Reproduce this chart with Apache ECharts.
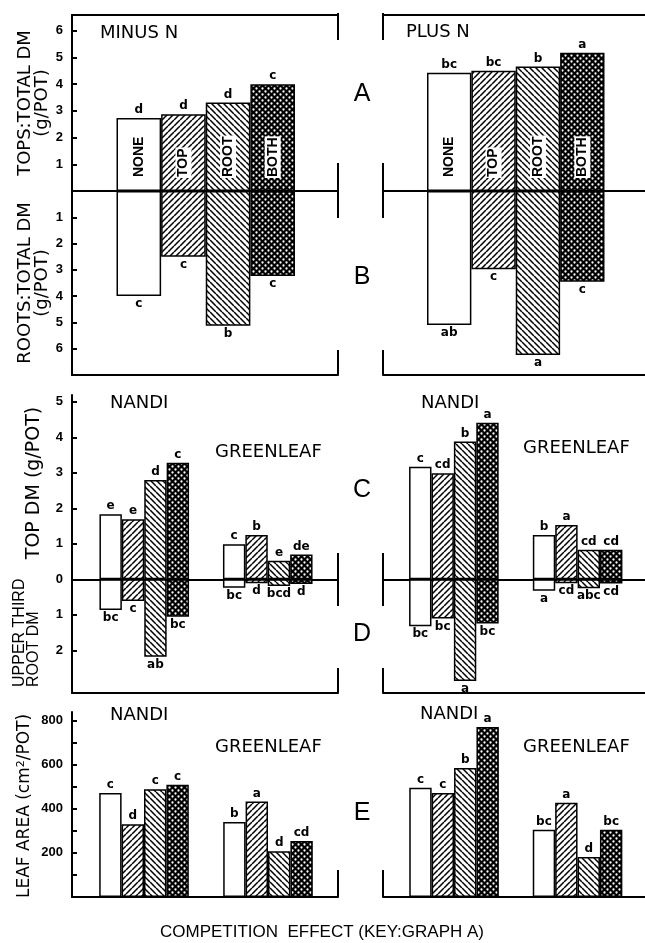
<!DOCTYPE html>
<html>
<head>
<meta charset="utf-8">
<script src="https://cdn.jsdelivr.net/npm/echarts@6/dist/echarts.min.js"></script>
<style>
  html, body { margin: 0; padding: 0; background: #fff; }
  #chart { width: 645px; height: 943px; }
</style>
</head>
<body>
<div id="chart"></div>
<script>
// competition treatments (key: graph A) and cultivars
const treatments = ['NONE', 'TOP', 'ROOT', 'BOTH'];
const cultivars = ['NANDI', 'GREENLEAF'];

// graphs A / B: tops and roots total DM (g/pot), order NONE, TOP, ROOT, BOTH
const topsMinusN = [2.73, 2.87, 3.31, 4.0];
const topsPlusN = [4.43, 4.5, 4.66, 5.18];
const rootsMinusN = [3.99, 2.5, 5.13, 3.23];
const rootsPlusN = [5.1, 2.98, 6.24, 3.45];
const topsMinusNSig = ['d', 'd', 'd', 'c'];
const topsPlusNSig = ['bc', 'bc', 'b', 'a'];
const rootsMinusNSig = ['c', 'c', 'b', 'c'];
const rootsPlusNSig = ['ab', 'c', 'a', 'c'];

// graphs C / D: top DM and upper third root DM (g/pot)
const topDmNandiMinusN = [1.83, 1.69, 2.80, 3.28];
const topDmGreenMinusN = [0.99, 1.25, 0.52, 0.70];
const rootDmNandiMinusN = [0.86, 0.61, 2.18, 1.05];
const rootDmGreenMinusN = [0.24, 0.11, 0.19, 0.13];
const topDmNandiPlusN = [3.17, 2.99, 3.88, 4.41];
const topDmGreenPlusN = [1.25, 1.53, 0.83, 0.83];
const rootDmNandiPlusN = [1.32, 1.10, 2.86, 1.24];
const rootDmGreenPlusN = [0.32, 0.11, 0.25, 0.12];
const topDmNandiMinusNSig = ['e', 'e', 'd', 'c'];
const topDmGreenMinusNSig = ['c', 'b', 'e', 'de'];
const rootDmNandiMinusNSig = ['bc', 'c', 'ab', 'bc'];
const rootDmGreenMinusNSig = ['bc', 'd', 'bcd', 'd'];
const topDmNandiPlusNSig = ['c', 'cd', 'b', 'a'];
const topDmGreenPlusNSig = ['b', 'a', 'cd', 'cd'];
const rootDmNandiPlusNSig = ['bc', 'bc', 'a', 'bc'];
const rootDmGreenPlusNSig = ['a', 'cd', 'abc', 'cd'];

// graph E: leaf area (cm2/pot)
const leafNandiMinusN = [471, 329, 488, 509];
const leafGreenMinusN = [340, 433, 207, 254];
const leafNandiPlusN = [495, 471, 584, 770];
const leafGreenPlusN = [305, 427, 181, 305];
const leafNandiMinusNSig = ['c', 'd', 'c', 'c'];
const leafGreenMinusNSig = ['b', 'a', 'd', 'cd'];
const leafNandiPlusNSig = ['c', 'c', 'b', 'a'];
const leafGreenPlusNSig = ['bc', 'a', 'd', 'bc'];

// tick values
const abTicks = [1, 2, 3, 4, 5, 6];
const cdTicks = [-2, -1, 0, 1, 2, 3, 4, 5];
const eTicks = [100, 200, 300, 400, 500, 600, 700, 800];
const eLabels = [200, 400, 600, 800];

const FONT = 'Liberation Sans';
const WIDE = 'DejaVu Sans';

function makePattern(kind) {
  const s = 6;
  const c = document.createElement('canvas');
  c.width = s; c.height = s;
  const g = c.getContext('2d');
  g.fillStyle = kind === 'dots' ? '#000' : '#fff';
  g.fillRect(0, 0, s, s);
  if (kind === 'dots') {
    g.fillStyle = '#fff';
    [[1.5, 1.5], [4.5, 4.5]].forEach(p => {
      g.beginPath(); g.arc(p[0], p[1], 1.15, 0, Math.PI * 2); g.fill();
    });
  } else {
    g.strokeStyle = '#000';
    g.lineWidth = 1.5;
    g.beginPath();
    for (let k = -1; k <= 1; k++) {
      if (kind === 'up') { g.moveTo(k * s, s); g.lineTo(k * s + s, 0); }
      else { g.moveTo(k * s, 0); g.lineTo(k * s + s, s); }
    }
    g.stroke();
  }
  return { image: c, repeat: 'repeat' };
}

const fills = ['#fff', makePattern('up'), makePattern('down'), makePattern('dots')];

const grid = [], xAxis = [], yAxis = [], series = [];
const lineStyle = { color: '#000', width: 2 };

function addGrid(box) {
  grid.push(Object.assign({ containLabel: false, outerBoundsMode: 'none' }, box));
  return grid.length - 1;
}

// frame: axes that only draw the panel lines
function frame(box, y, borders) {
  const gi = addGrid(box);
  yAxis.push(Object.assign({ gridIndex: gi, type: 'value', splitLine: { show: false } }, y));
  borders.forEach(b => {
    xAxis.push({
      gridIndex: gi, type: 'value', min: 0, max: 1,
      position: b === 'bottom' ? 'bottom' : 'top',
      axisLabel: { show: false }, axisTick: { show: false }, splitLine: { show: false },
      axisLine: { show: true, onZero: b === 'zero', lineStyle }
    });
  });
}

function leftAxis(min, max, ticks, labels, inverse) {
  return {
    min, max, inverse: !!inverse,
    axisLine: { show: true, onZero: false, lineStyle },
    axisTick: { show: true, inside: true, length: 5, customValues: ticks, lineStyle },
    axisLabel: {
      show: true, customValues: labels, formatter: v => String(Math.abs(v)),
      color: '#000', fontFamily: FONT, fontWeight: 'bold', fontSize: 13, margin: 9
    }
  };
}

function blankAxis(min, max, inverse) {
  return { min, max, inverse: !!inverse, axisLine: { show: false }, axisTick: { show: false }, axisLabel: { show: false } };
}

function dataGrid(box, cats, min, max, inverse) {
  const gi = addGrid(box);
  xAxis.push({ gridIndex: gi, type: 'category', data: cats, show: false });
  yAxis.push({ gridIndex: gi, type: 'value', min, max, inverse: !!inverse, show: false });
  return { x: xAxis.length - 1, y: yAxis.length - 1 };
}

const sigLabel = { show: true, color: '#000', fontFamily: WIDE, fontWeight: 'bold', fontSize: 12, distance: 2 };
const barBorder = { borderColor: '#000', borderWidth: 1.5 };

// ---- graphs A / B ----
const aTop = 15, aH = 176, bH = 184, aMax = 6.59, bMax = 7.0;

function abPanel(side, tops, roots, topsSig, rootsSig) {
  const left = side === 'L' ? 72 : 383;
  const width = side === 'L' ? 266 : 262;
  frame({ left, top: aTop, width, height: aH },
    side === 'L' ? leftAxis(0, aMax, abTicks, abTicks) : blankAxis(0, aMax), ['top', 'bottom']);
  frame({ left, top: aTop + aH, width, height: bH },
    side === 'L' ? leftAxis(0, bMax, abTicks, abTicks, true) : blankAxis(0, bMax, true), ['bottom']);

  const box = side === 'L' ? { left: 116.5, width: 178.5 } : { left: 427, width: 177.5 };
  const dA = dataGrid(Object.assign({ top: aTop, height: aH }, box), treatments, 0, aMax);
  const dB = dataGrid(Object.assign({ top: aTop + aH, height: bH }, box), treatments, 0, bMax, true);

  series.push({
    type: 'bar', xAxisIndex: dA.x, yAxisIndex: dA.y, barCategoryGap: '0%', barGap: '-100%',
    data: tops.map((v, i) => ({ value: v, itemStyle: { color: fills[i] } })),
    itemStyle: barBorder,
    label: Object.assign({ position: 'top', formatter: p => topsSig[p.dataIndex] }, sigLabel)
  });
  series.push({
    type: 'bar', xAxisIndex: dA.x, yAxisIndex: dA.y, barCategoryGap: '0%', barGap: '-100%', z: 3,
    data: tops, itemStyle: { color: 'transparent', borderWidth: 0 },
    label: {
      show: true, position: 'insideBottom', rotate: 90, align: 'left', verticalAlign: 'middle',
      distance: 13, formatter: p => treatments[p.dataIndex], color: '#000',
      fontFamily: FONT, fontWeight: 'bold', fontSize: 14, backgroundColor: '#fff', padding: [2, 1, 0, 1]
    }
  });
  series.push({
    type: 'bar', xAxisIndex: dB.x, yAxisIndex: dB.y, barCategoryGap: '0%',
    data: roots.map((v, i) => ({ value: v, itemStyle: { color: fills[i] } })),
    itemStyle: barBorder,
    label: Object.assign({ position: 'bottom', formatter: p => rootsSig[p.dataIndex] }, sigLabel)
  });
}

abPanel('L', topsMinusN, rootsMinusN, topsMinusNSig, rootsMinusNSig);
abPanel('R', topsPlusN, rootsPlusN, topsPlusNSig, rootsPlusNSig);

// ---- graphs C / D ----
const cdTop = 395, cdH = 298, cdMin = -3.2, cdMax = 5.19;

function cdPanel(side, cN, cG, dN, dG, cNs, cGs, dNs, dGs) {
  const left = side === 'L' ? 72 : 383;
  const width = side === 'L' ? 266 : 262;
  frame({ left, top: cdTop, width, height: cdH },
    side === 'L' ? leftAxis(cdMin, cdMax, cdTicks, cdTicks) : blankAxis(cdMin, cdMax), ['zero', 'bottom']);
  const box = side === 'L' ? { left: 82.5, width: 247 } : { left: 392, width: 247.5 };
  const d = dataGrid(Object.assign({ top: cdTop, height: cdH }, box), cultivars, cdMin, cdMax);
  treatments.forEach((t, i) => {
    const cSig = [cNs[i], cGs[i]], dSig = [dNs[i], dGs[i]];
    const stack = side + t;
    series.push({
      type: 'bar', xAxisIndex: d.x, yAxisIndex: d.y, stack, barWidth: 22.4, barGap: '0%',
      data: [cN[i], cG[i]], itemStyle: Object.assign({ color: fills[i] }, barBorder),
      label: Object.assign({ position: 'top', formatter: p => cSig[p.dataIndex] }, sigLabel)
    });
    series.push({
      type: 'bar', xAxisIndex: d.x, yAxisIndex: d.y, stack, barWidth: 22.4, barGap: '0%',
      data: [-dN[i], -dG[i]], itemStyle: Object.assign({ color: fills[i] }, barBorder),
      label: Object.assign({ position: 'bottom', formatter: p => dSig[p.dataIndex] }, sigLabel)
    });
  });
}

cdPanel('L', topDmNandiMinusN, topDmGreenMinusN, rootDmNandiMinusN, rootDmGreenMinusN,
  topDmNandiMinusNSig, topDmGreenMinusNSig, rootDmNandiMinusNSig, rootDmGreenMinusNSig);
cdPanel('R', topDmNandiPlusN, topDmGreenPlusN, rootDmNandiPlusN, rootDmGreenPlusN,
  topDmNandiPlusNSig, topDmGreenPlusNSig, rootDmNandiPlusNSig, rootDmGreenPlusNSig);

// ---- graph E ----
const eTop = 712, eH = 185, eMax = 838;

function ePanel(side, n, g, ns, gs) {
  const left = side === 'L' ? 72 : 383;
  const width = side === 'L' ? 266 : 262;
  frame({ left, top: eTop, width, height: eH },
    side === 'L' ? leftAxis(0, eMax, eTicks, eLabels) : blankAxis(0, eMax), ['bottom']);
  const box = side === 'L' ? { left: 82, width: 248 } : { left: 392.3, width: 247 };
  const d = dataGrid(Object.assign({ top: eTop, height: eH }, box), cultivars, 0, eMax);
  treatments.forEach((t, i) => {
    const sig = [ns[i], gs[i]];
    series.push({
      type: 'bar', xAxisIndex: d.x, yAxisIndex: d.y, barWidth: 22.4, barGap: '0%',
      data: [n[i], g[i]], itemStyle: Object.assign({ color: fills[i] }, barBorder),
      label: Object.assign({ position: 'top', formatter: p => sig[p.dataIndex] }, sigLabel)
    });
  });
}

ePanel('L', leafNandiMinusN, leafGreenMinusN, leafNandiMinusNSig, leafGreenMinusNSig);
ePanel('R', leafNandiPlusN, leafGreenPlusN, leafNandiPlusNSig, leafGreenPlusNSig);

// ---- texts and broken panel edges ----
function txt(text, x, y, size, opts) {
  const o = opts || {};
  return {
    type: 'text', x, y, rotation: o.rot || 0, z: 10,
    style: {
      text, fill: '#000', font: (o.weight || 'normal') + ' ' + size + 'px "' + (o.family || WIDE) + '"',
      textAlign: o.align || 'left', textVerticalAlign: 'middle'
    }
  };
}
const up = Math.PI / 2;
const graphic = [
  txt('MINUS N', 100, 33, 18),
  txt('PLUS N', 406, 32, 18),
  txt('A', 362, 94, 25, { align: 'center', family: FONT }),
  txt('B', 362, 277, 25, { align: 'center', family: FONT }),
  txt('C', 362, 490, 25, { align: 'center', family: FONT }),
  txt('D', 362, 634, 25, { align: 'center', family: FONT }),
  txt('E', 362, 813, 25, { align: 'center', family: FONT }),
  txt('NANDI', 110, 403, 18),
  txt('GREENLEAF', 215, 452, 18),
  txt('NANDI', 421, 403, 18),
  txt('GREENLEAF', 523, 448, 18),
  txt('NANDI', 110, 715, 18),
  txt('GREENLEAF', 215, 747, 18),
  txt('NANDI', 420, 714, 18),
  txt('GREENLEAF', 523, 747, 18),
  txt('COMPETITION  EFFECT (KEY:GRAPH A)', 322, 932, 17, { align: 'center', family: FONT }),
  txt('TOPS:TOTAL DM', 25, 103, 18, { align: 'center', rot: up }),
  txt('(g/POT)', 42, 103, 18, { align: 'center', rot: up }),
  txt('ROOTS:TOTAL DM', 25, 283, 18, { align: 'center', rot: up }),
  txt('(g/POT)', 42, 283, 18, { align: 'center', rot: up }),
  txt('TOP DM (g/POT)', 34, 483, 19, { align: 'center', rot: up }),
  txt('UPPER THIRD', 20, 687, 16, { align: 'left', rot: up, family: FONT }),
  txt('ROOT DM', 34, 687, 16, { align: 'left', rot: up, family: FONT }),
  {
    type: 'text', x: 25, y: 806, rotation: up, z: 10,
    style: {
      text: 'LEAF AREA (cm{sup|2}/POT)', fill: '#000', font: 'normal 17px "' + WIDE + '"',
      textAlign: 'center', textVerticalAlign: 'middle',
      rich: { sup: { fontFamily: WIDE, fontSize: 11, verticalAlign: 'top', padding: [0, 0, 8, 0] } }
    }
  }
];
const edgeSpans = [[13, 40], [163, 218], [350, 375], [553, 606], [668, 693], [870, 897]];
[338, 383].forEach(x => {
  edgeSpans.forEach(s => {
    graphic.push({ type: 'line', z: 10, shape: { x1: x, y1: s[0], x2: x, y2: s[1] }, style: { stroke: '#000', lineWidth: 2 } });
  });
});

const chart = echarts.init(document.getElementById('chart'));
chart.setOption({
  animation: false,
  backgroundColor: '#fff',
  grid, xAxis, yAxis, series, graphic
});
</script>
</body>
</html>
